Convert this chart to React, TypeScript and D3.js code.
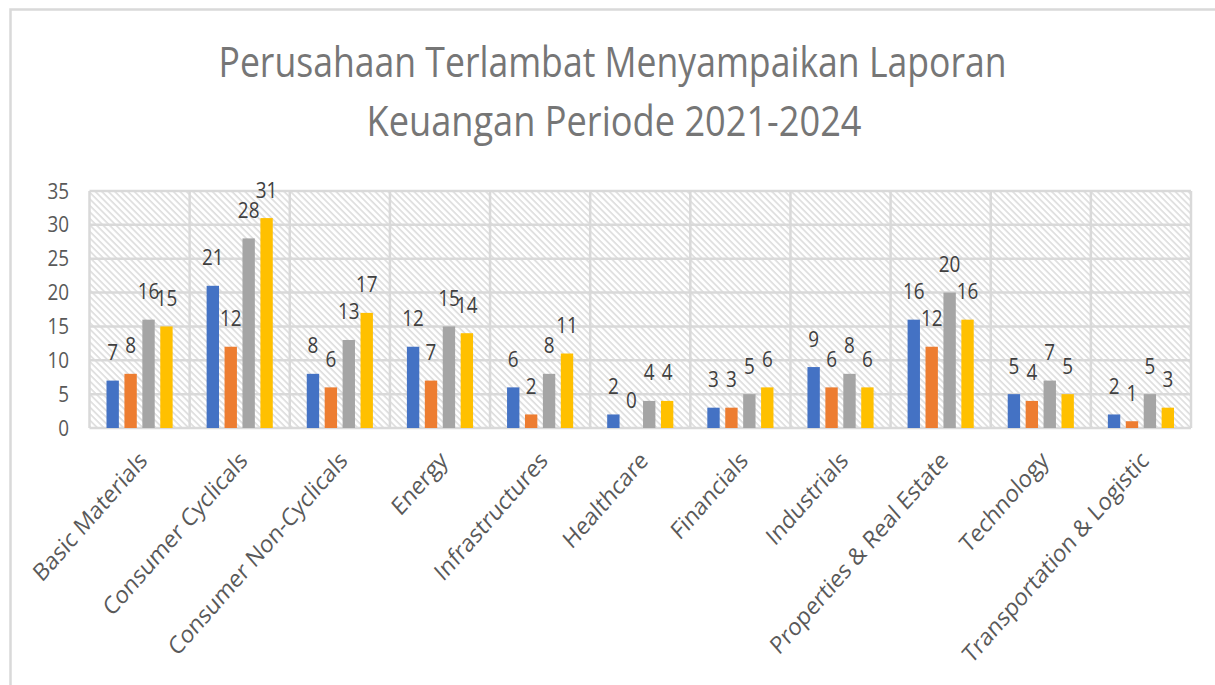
import React from "react";
import * as d3 from "d3";

const categories = [
  "Basic Materials",
  "Consumer Cyclicals",
  "Consumer Non-Cyclicals",
  "Energy",
  "Infrastructures",
  "Healthcare",
  "Financials",
  "Industrials",
  "Properties & Real Estate",
  "Technology",
  "Transportation & Logistic",
];
const seriesNames = ["2021", "2022", "2023", "2024"];
const values2021 = [7, 21, 8, 12, 6, 2, 3, 9, 16, 5, 2];
const values2022 = [8, 12, 6, 7, 2, 0, 3, 6, 12, 4, 1];
const values2023 = [16, 28, 13, 15, 8, 4, 5, 8, 20, 7, 5];
const values2024 = [15, 31, 17, 14, 11, 4, 6, 6, 16, 5, 3];
const seriesValues = [values2021, values2022, values2023, values2024];
const seriesColors = ["#4472C4", "#ED7D31", "#A5A5A5", "#FFC000"];
const yTicks = [0, 5, 10, 15, 20, 25, 30, 35];
const titleLines = ["Perusahaan Terlambat Menyampaikan Laporan", "Keuangan Periode 2021-2024"];

const W = 1215;
const H = 685;
const plot = { left: 89.5, right: 1191, top: 191, bottom: 428 };
const FONT = "'Open Sans', 'DejaVu Sans', sans-serif";
const GRID = "#D9D9D9";

export default function App() {
  const x0 = d3.scaleBand<string>().domain(categories).range([plot.left, plot.right]).padding(0);
  const bw = x0.bandwidth();
  const x1 = d3
    .scaleBand<string>()
    .domain(seriesNames)
    .range([17, bw - 17])
    .paddingInner(0.31)
    .paddingOuter(0);
  const y = d3.scaleLinear().domain([0, 35]).range([plot.bottom, plot.top]);

  return (
    <svg
      width={W}
      height={H}
      style={{ position: "absolute", left: 0, top: 0, display: "block", background: "#fff" }}
      fontFamily={FONT}
    >
      <defs>
        <pattern
          id="hatch"
          patternUnits="userSpaceOnUse"
          width={4.6}
          height={10}
          patternTransform="rotate(-45)"
        >
          <rect width={4.6} height={10} fill="#ffffff" />
          <line x1={1} y1={0} x2={1} y2={10} stroke="#DADADA" strokeWidth={1.5} />
        </pattern>
      </defs>

      {/* outer chart border */}
      <rect x={10.5} y={9.5} width={W + 20} height={H + 20} fill="none" stroke={GRID} strokeWidth={2.5} />

      {/* title */}
      <g fill="#767676" fontSize={42} textAnchor="middle">
        <text x={612.5} y={77} textLength={788} lengthAdjust="spacingAndGlyphs">
          {titleLines[0]}
        </text>
        <text x={614} y={136} textLength={495} lengthAdjust="spacingAndGlyphs">
          {titleLines[1]}
        </text>
      </g>

      {/* plot background */}
      <rect
        x={plot.left}
        y={plot.top}
        width={plot.right - plot.left}
        height={plot.bottom - plot.top}
        fill="url(#hatch)"
      />

      {/* horizontal gridlines */}
      {yTicks.map((t) => (
        <line
          key={"h" + t}
          x1={plot.left}
          x2={plot.right}
          y1={y(t)}
          y2={y(t)}
          stroke={GRID}
          strokeWidth={2.5}
        />
      ))}
      {/* vertical category lines */}
      {categories.map((c) => (
        <line
          key={"v" + c}
          x1={x0(c)!}
          x2={x0(c)!}
          y1={plot.top}
          y2={plot.bottom}
          stroke={GRID}
          strokeWidth={2.5}
        />
      ))}
      <line x1={plot.right} x2={plot.right} y1={plot.top} y2={plot.bottom} stroke={GRID} strokeWidth={2.5} />

      {/* y tick labels */}
      {yTicks.map((t) => (
        <text
          key={"yt" + t}
          transform={`translate(69, ${y(t) + 7.5}) scale(0.9, 1)`}
          textAnchor="end"
          fontSize={21}
          fill="#595959"
        >
          {t}
        </text>
      ))}

      {/* bars */}
      {categories.map((c, ci) => (
        <g key={"g" + c} transform={`translate(${x0(c)}, 0)`}>
          {seriesNames.map((s, si) => {
            const v = seriesValues[si][ci];
            return (
              <rect
                key={s}
                x={x1(s)!}
                y={y(v)}
                width={x1.bandwidth()}
                height={plot.bottom - y(v)}
                fill={seriesColors[si]}
              />
            );
          })}
        </g>
      ))}

      {/* data labels */}
      {categories.map((c, ci) => (
        <g key={"l" + c}>
          {seriesNames.map((s, si) => {
            const v = seriesValues[si][ci];
            const cx = x0(c)! + x1(s)! + x1.bandwidth() / 2;
            return (
              <text
                key={s}
                transform={`translate(${cx}, ${y(v) - 20.5}) scale(0.9, 1)`}
                textAnchor="middle"
                fontSize={21}
                fill="#404040"
              >
                {v}
              </text>
            );
          })}
        </g>
      ))}

      {/* category labels */}
      {categories.map((c) => (
        <text
          key={"c" + c}
          transform={`translate(${x0(c)! + bw / 2 + 9}, 462) scale(0.88, 1) rotate(-45)`}
          textAnchor="end"
          fontSize={24.5}
          fill="#595959"
        >
          {c}
        </text>
      ))}
    </svg>
  );
}
